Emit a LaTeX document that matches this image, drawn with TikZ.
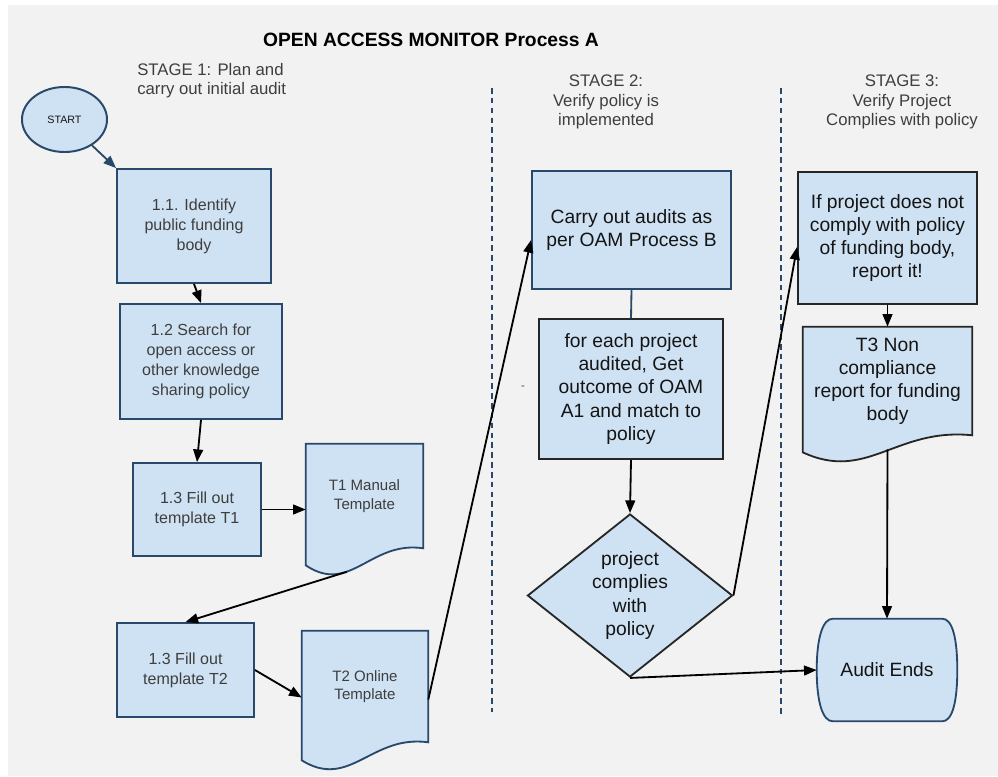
\documentclass[tikz,border=0pt]{standalone}
\usepackage{fontspec}
\setmainfont{Liberation Sans}
\usepackage{tikz}
\usetikzlibrary{arrows.meta,shapes,calc,backgrounds}
\definecolor{panel}{RGB}{242,242,242}
\definecolor{boxfill}{RGB}{207,226,243}
\definecolor{boxline}{RGB}{40,72,108}
\definecolor{darkline}{RGB}{38,38,38}
\definecolor{softtext}{RGB}{62,62,62}
\definecolor{hardtext}{RGB}{20,20,20}
\tikzstyle{procbox}=[rectangle,draw=boxline,fill=boxfill,line width=1.3pt,inner sep=0pt,align=center,font=\fontsize{11.4}{14.2}\selectfont,text=softtext]
\tikzstyle{bigbox}=[rectangle,draw=darkline,fill=boxfill,line width=1.3pt,inner sep=0pt,align=center,font=\fontsize{13.7}{16.4}\selectfont,text=hardtext]
\tikzstyle{docbox}=[rectangle,inner sep=0pt,align=center,font=\fontsize{10.7}{13.2}\selectfont,text=softtext]
\tikzstyle{docline}=[draw=boxline,fill=boxfill,line width=1.3pt]
\tikzstyle{decision}=[diamond,draw=darkline,fill=boxfill,line width=1.3pt,inner sep=0pt,shape aspect=1.25,minimum width=5.125cm,minimum height=4.075cm,align=center,font=\fontsize{13.7}{16.4}\selectfont,text=hardtext]
\tikzstyle{startnode}=[ellipse,draw=boxline,fill=boxfill,line width=1.4pt,inner sep=0pt,minimum width=2.125cm,minimum height=1.625cm,font=\fontsize{7.6}{9}\selectfont,text=hardtext]
\tikzstyle{stagetext}=[inner sep=0pt,font=\fontsize{11.9}{13.6}\selectfont,text=softtext]
\tikzstyle{flow}=[draw,line width=1.3pt,-{Triangle[length=9pt,width=7pt]}]
\tikzstyle{sep}=[draw=boxline,line width=1.4pt,dash pattern=on 4pt off 3pt]
% document symbol drawn round a node: #1 node, #2 drop of the left corner, #3 style
\newcommand{\docpath}[3]{\path[#3] (#1.north west) -- (#1.north east) -- (#1.south east)
  .. controls ($(#1.south west)!0.55!(#1.south east)+(0,-8)$) and ($(#1.south west)!0.38!(#1.south east)+(0,#2+30)$)
  .. ($(#1.south west)+(0,#2)$) -- cycle;}

\begin{document}
\begin{tikzpicture}[x=0.025cm,y=-0.025cm]
  \useasboundingbox (0,0) rectangle (998,776);

  \node[font=\bfseries\fontsize{13.7}{16}\selectfont] (title) at (431,40) {OPEN ACCESS MONITOR Process A};
  \node[stagetext,anchor=west,align=left] (stage1) at (137,81) {STAGE 1: Plan and\\carry out initial audit};
  \node[stagetext,align=center] (stage2) at (606,102) {STAGE 2:\\Verify policy is\\implemented};
  \node[stagetext,align=center] (stage3) at (902,102) {STAGE 3:\\Verify Project\\Complies with policy};

  % stage 1
  \node[startnode] (start) at (64.5,119.5) {START};
  \node[procbox,minimum width=3.85cm,minimum height=2.85cm] (s11) at (194,226) {1.1. Identify\\public funding\\body};
  \node[procbox,minimum width=4.05cm,minimum height=2.875cm] (s12) at (201,361.5) {1.2 Search for\\open access or\\other knowledge\\sharing policy};
  \node[procbox,minimum width=3.2cm,minimum height=2.325cm] (s13) at (197,509.5) {1.3 Fill out\\template T1};
  \node[docbox,minimum width=2.925cm,minimum height=2.6cm] (t1) at (364.5,496) {T1 Manual\\Template};
  \node[procbox,minimum width=3.425cm,minimum height=2.35cm] (s14) at (185.5,670) {1.3 Fill out\\template T2};
  \node[docbox,minimum width=3.15cm,minimum height=2.775cm] (t2) at (365,686.5) {T2 Online\\Template};

  % stage 2
  \node[bigbox,draw=boxline,minimum width=4.975cm,minimum height=2.95cm] (audits) at (631.5,230) {Carry out audits as\\per OAM Process B};
  \node[bigbox,minimum width=4.6cm,minimum height=3.5cm] (match) at (631,389) {for each project\\audited, Get\\outcome of OAM\\A1 and match to\\policy};
  \node[decision] (check) at (630,595.5) {project\\complies\\with\\policy};
  \node[font=\fontsize{8}{8}\selectfont,text=boxline,inner sep=0pt] (blip) at (523,388) {-};

  % stage 3
  \node[bigbox,minimum width=4.475cm,minimum height=3.3cm] (report) at (887.5,238) {If project does not\\comply with policy\\of funding body,\\report it!};
  \node[docbox,font=\fontsize{13.7}{16.4}\selectfont,text=hardtext,minimum width=4.225cm,minimum height=2.7cm] (t3) at (887.5,381) {T3 Non\\compliance\\report for funding\\body};
  \node[docbox,font=\fontsize{13.7}{16.4}\selectfont,text=hardtext,minimum width=3.5cm,minimum height=2.55cm] (finish) at (887,670) {Audit Ends};

  \coordinate (t1tail) at ($(t1.south west)!0.35!(t1.south east)+(0,23.5)$);
  \coordinate (t3tail) at ($(t3.south)+(0,14)$);

  \begin{scope}[on background layer]
    \fill[panel] (8,5) rectangle (998,776);
    \docpath{t1}{17}{docline}
    \docpath{t2}{18}{docline}
    \docpath{t3}{17}{docline,draw=darkline}
    \path[docline] ($(finish.north west)+(16,0)$) -- ($(finish.north east)+(-15,0)$)
      .. controls ($(finish.north east)+(-5,0)$) and ($(finish.east)+(0,-32)$) .. (finish.east)
      .. controls ($(finish.east)+(0,32)$) and ($(finish.south east)+(-5,0)$) .. ($(finish.south east)+(-15,0)$)
      -- ($(finish.south west)+(16,0)$)
      .. controls ($(finish.south west)+(6,0)$) and ($(finish.west)+(0,32)$) .. (finish.west)
      .. controls ($(finish.west)+(0,-32)$) and ($(finish.north west)+(6,0)$) .. ($(finish.north west)+(16,0)$) -- cycle;
  \end{scope}

  \draw[sep] (492,88) -- (492,712);
  \draw[sep] (781,88) -- (781,715);

  \path[flow,draw=boxline] (start) -- (s11.north west);
  \path[flow] (s11.south) -- (s12.north);
  \path[flow] (s12.south) -- (s13.north);
  \path[flow] (s13.east) -- (s13.east -| t1.west);
  \path[flow] (t1tail) -- (s14.north);
  \path[flow] (s14.east) -- ($(t2.west)+(0,11)$);
  \path[flow] ($(t2.east)+(0,13)$) -- ($(audits.west)+(0,10)$);
  \path[draw=boxline,line width=1.3pt] (audits.south) -- (match.north);
  \path[flow] (match.south) -- (check.north);
  \path[flow] (check.east) -- ($(report.west)+(0,9)$);
  \path[flow] (report.south) -- (t3.north);
  \path[flow] (t3tail) -- (finish.north);
  \path[flow] (check.south) -- (finish.west);

\end{tikzpicture}
\end{document}
